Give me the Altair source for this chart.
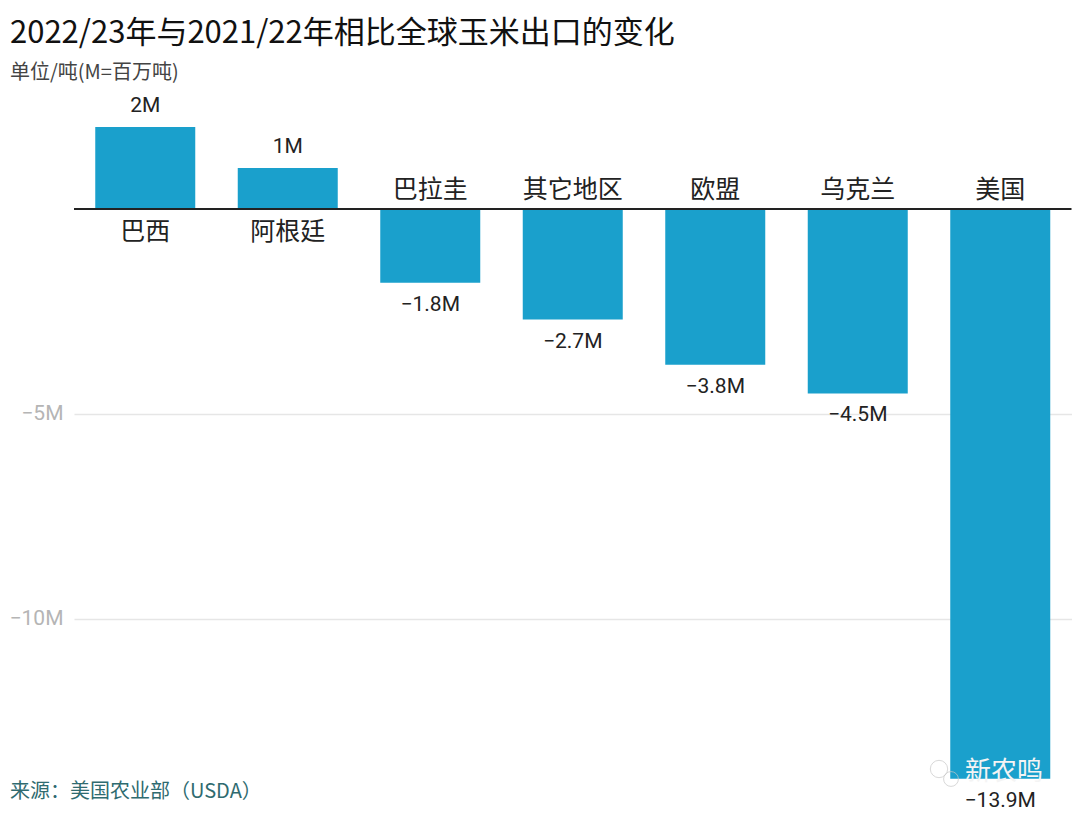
import altair as alt
import pandas as pd

categories = ["巴西", "阿根廷", "巴拉圭", "其它地区", "欧盟", "乌克兰", "美国"]
values = [2.0, 1.0, -1.8, -2.7, -3.8, -4.5, -13.9]
value_labels = ["2M", "1M", "−1.8M", "−2.7M", "−3.8M", "−4.5M", "−13.9M"]
axis_ticks = [-10, -5]
CJK = "Noto Sans CJK SC"
LATIN = "Roboto"
BAR = "#1aa0cc"

df = pd.DataFrame({"cat": categories, "val": values, "lab": value_labels})
y_scale = alt.Scale(domain=[-14.54, 2.9], nice=False, zero=False)
x = alt.X("cat:N", sort=categories, axis=None,
          scale=alt.Scale(paddingInner=0.3, paddingOuter=0.15))
y = alt.Y("val:Q", title=None, scale=y_scale,
          axis=alt.Axis(values=axis_ticks, labelExpr="replace(datum.value + 'M', '-', '−')",
                        domain=False, ticks=False,
                        grid=True, gridColor="#e6e6e6", gridWidth=1.3, labelColor="#b5b5b5",
                        labelFont=LATIN, labelFontSize=21, labelPadding=11))
base = alt.Chart(df)
pos = "datum.val >= 0"
neg = "datum.val < 0"

bars = base.mark_bar(color=BAR, size=100).encode(x=x, y=y)
zero = alt.Chart(pd.DataFrame({"val": [0]})).mark_rule(color="#222222", strokeWidth=2).encode(y=y)

val_style = dict(font=LATIN, fontSize=21, color="#222222")
cat_style = dict(font=CJK, fontSize=25, color="#222222")
layers = [
    bars, zero,
    base.transform_filter(pos).mark_text(dy=-21, **val_style).encode(x=x, y=y, text="lab:N"),
    base.transform_filter(neg).mark_text(dy=22, **val_style).encode(x=x, y=y, text="lab:N"),
    base.transform_filter(pos).mark_text(dy=23, **cat_style).encode(x=x, y=alt.datum(0, scale=y_scale), text="cat:N"),
    base.transform_filter(neg).mark_text(dy=-19, **cat_style).encode(x=x, y=alt.datum(0, scale=y_scale), text="cat:N"),
]

note = alt.Chart(pd.DataFrame({"t": ["来源：美国农业部（USDA）"]})).mark_text(
    font=CJK, fontSize=20, color="#2f6b70", align="left", baseline="middle").encode(
    x=alt.value(-64), y=alt.value(702), text="t:N")
mark_wm = alt.Chart(pd.DataFrame({"t": ["新农鸣"]})).mark_text(
    font=CJK, fontSize=26, color="#f4f4f4", align="left", baseline="middle").encode(
    x=alt.value(891), y=alt.value(682), text="t:N")
bubble_a = alt.Chart(pd.DataFrame({"s": [1]})).mark_point(
    shape="circle", size=300, filled=False, stroke="#c9c9c9", strokeWidth=1).encode(
    x=alt.value(865), y=alt.value(679))
bubble_b = alt.Chart(pd.DataFrame({"s": [1]})).mark_point(
    shape="circle", size=220, filled=False, stroke="#c9c9c9", strokeWidth=1).encode(
    x=alt.value(877), y=alt.value(689))

chart = alt.layer(*layers, note, bubble_a, bubble_b, mark_wm).properties(
    width=997.5, height=715,
    padding={"left": 66, "top": 82, "right": 0, "bottom": 6},
    autosize=alt.AutoSizeParams(type="none"),
    background="white",
    title=alt.TitleParams(
        text="2022/23年与2021/22年相比全球玉米出口的变化", subtitle="单位/吨(M=百万吨)",
        anchor="start", frame="group", dx=-64, offset=6,
        font=CJK, fontSize=31, fontWeight="normal", color="#111111",
        subtitleFont=CJK, subtitleFontSize=20, subtitleColor="#444444", subtitlePadding=13),
).configure_view(stroke=None)

chart.save("out.html", embed_options={"renderer": "svg", "actions": False})
